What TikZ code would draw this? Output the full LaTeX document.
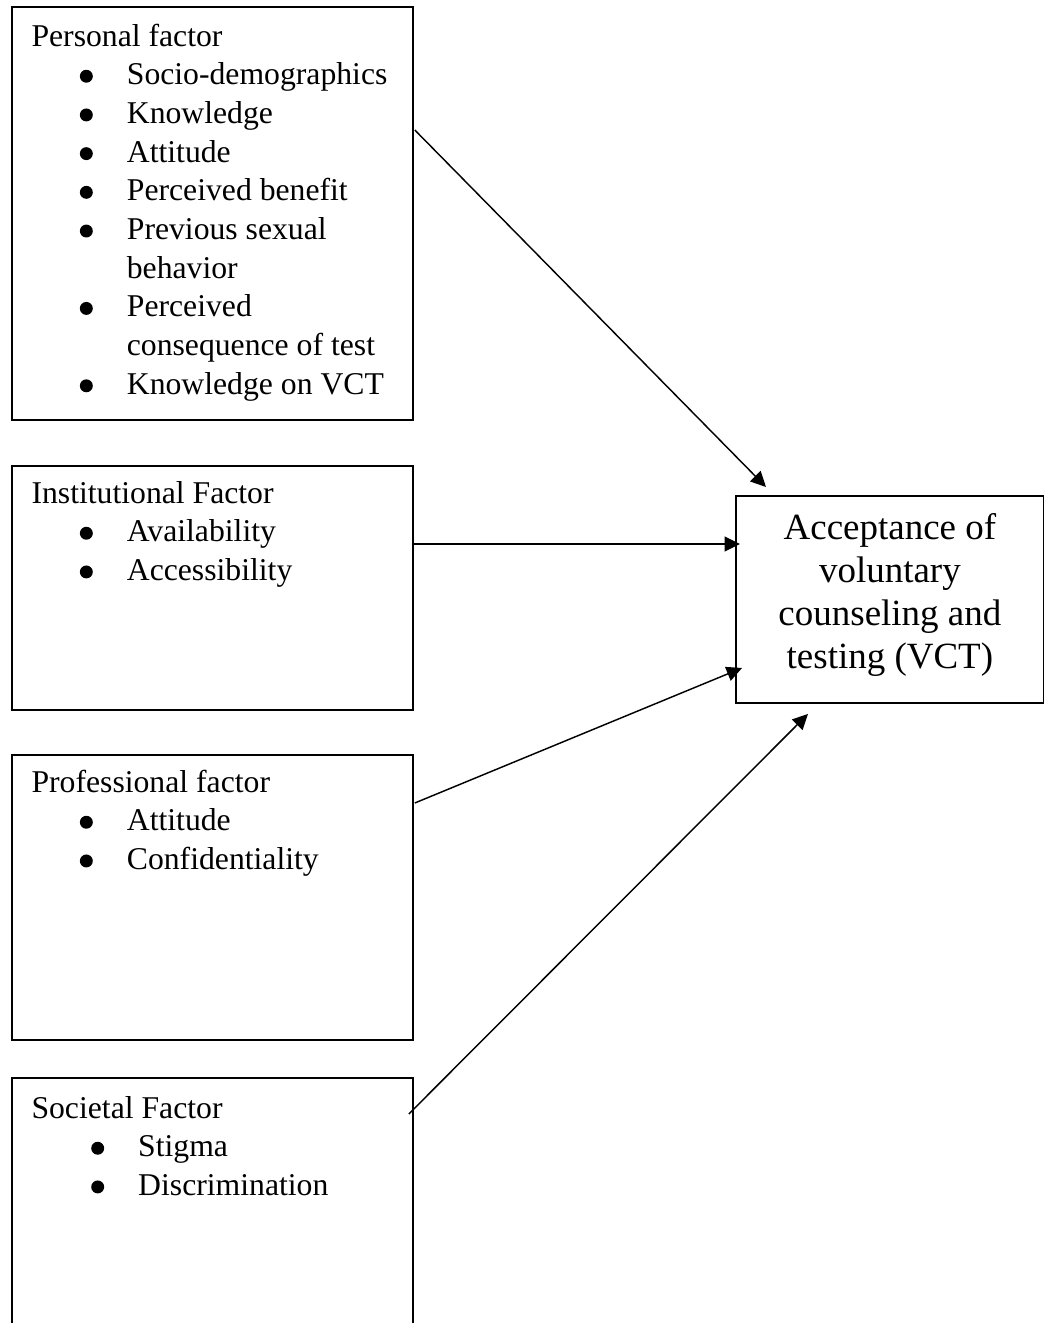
\documentclass[tikz,border=0pt]{standalone}
\usepackage{fontspec}
\setmainfont{Liberation Serif}
\usetikzlibrary{arrows.meta,positioning}
\newcommand{\bigdot}{\tikz[baseline=-3.2pt]\fill (0,0) circle (2.45pt);}
\newcommand{\bul}[2][18.3pt]{\hspace*{#1}\makebox[17.8pt][l]{\bigdot}#2}
\newcommand{\cont}[1]{\hspace*{36.1pt}#1}

\begin{document}
\begin{tikzpicture}[x=0.3786pt, y=-0.3786pt,
    factor/.style={draw, line width=0.7pt, anchor=north west, inner sep=0, minimum width=151.8pt},
    listtext/.style={inner sep=0, anchor=base west, font=\fontsize{12}{14.65}\selectfont},
    conn/.style={-{Triangle[length=5.8pt,width=5.6pt]}, line width=0.55pt}]
			%%%%% START %%%%%
			\useasboundingbox (0,0) rectangle (1044,1323);
			\clip (0,0) rectangle (1044,1323);
			
			% factor boxes
			\node[factor, minimum height=156.4pt] (personal) at (11,6) {};
			\node[factor, minimum height=92.4pt] (institutional) at (11,465) {};
			\node[factor, minimum height=107.9pt] (professional) at (11,754) {};
			\node[factor, minimum height=100pt] (societal) at (11,1077) {};
			
			\node[listtext] (personal-txt) at ([shift={(20,40)}]personal.north west) {\begin{tabular}[t]{@{}l@{}}
				Personal factor\\
				\bul{Socio-demographics}\\
				\bul{Knowledge}\\
				\bul{Attitude}\\
				\bul{Perceived benefit}\\
				\bul{Previous sexual}\\
				\cont{behavior}\\
				\bul{Perceived}\\
				\cont{consequence of test}\\
				\bul{Knowledge on VCT}
			\end{tabular}};
			\node[listtext] (institutional-txt) at ([shift={(20,38)}]institutional.north west) {\begin{tabular}[t]{@{}l@{}}
				Institutional Factor\\
				\bul{Availability}\\
				\bul{Accessibility}
			\end{tabular}};
			\node[listtext] (professional-txt) at ([shift={(20,38)}]professional.north west) {\begin{tabular}[t]{@{}l@{}}
				Professional factor\\
				\bul{Attitude}\\
				\bul{Confidentiality}
			\end{tabular}};
			\node[listtext] (societal-txt) at ([shift={(20,41)}]societal.north west) {\begin{tabular}[t]{@{}l@{}}
				Societal Factor\\
				\bul[22.6pt]{Stigma}\\
				\bul[22.6pt]{Discrimination}
			\end{tabular}};
			
			% outcome
			\node[draw, line width=0.7pt, anchor=north west, minimum width=116.6pt, minimum height=78.4pt,
				font=\fontsize{14}{16.17}\selectfont] (vct) at (735,495)
				{\raisebox{1.5pt}[\height][\depth]{\begin{tabular}{@{}c@{}}
				Acceptance of\\voluntary\\counseling and\\testing (VCT)\end{tabular}}};
			
			% arrow ends
			\coordinate (p-out) at ([shift={(1,124)}]personal.north east);
			\coordinate (i-out) at ([shift={(0,79)}]institutional.north east);
			\coordinate (pr-out) at ([shift={(1,49)}]professional.north east);
			\coordinate (s-out) at ([shift={(-5,37)}]societal.north east);
			\coordinate (v-in1) at ([shift={(31,-8)}]vct.north west);
			\coordinate (v-in2) at ([shift={(5,49)}]vct.north west);
			\coordinate (v-in3) at ([shift={(7,173)}]vct.north west);
			\coordinate (v-in4) at ([shift={(73,10)}]vct.south west);
			
			\draw[conn] (p-out) -- (v-in1);
			\draw[conn] (i-out) -- (v-in2);
			\draw[conn] (pr-out) -- (v-in3);
			\draw[conn] (s-out) -- (v-in4);
			
			%%%%% END %%%%%
		\end{tikzpicture}
\end{document}
